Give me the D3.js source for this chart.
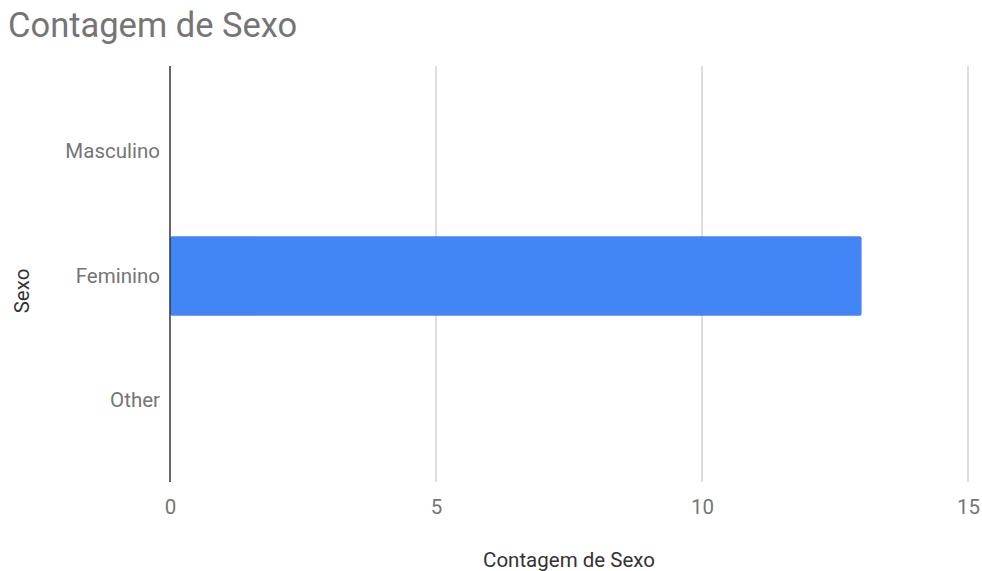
<!DOCTYPE html>
<html><head><meta charset="utf-8">
<script src="https://cdn.jsdelivr.net/npm/d3@7"></script>
<style>body{margin:0;background:#fff;font-family:Roboto,sans-serif;}</style>
</head><body>
<svg id="c" width="982" height="571"></svg>
<script>
const categories = ["Masculino", "Feminino", "Other"];
const values = [0, 13, 0];
const xTicks = [0, 5, 10, 15];
const title = "Contagem de Sexo";
const xTitle = "Contagem de Sexo";
const yTitle = "Sexo";

const svg = d3.select("#c");
const plotTop = 66, plotBottom = 482, plotLeft = 170, plotRight = 968;

const x = d3.scaleLinear().domain([0, 15]).range([plotLeft, plotRight]);
const y = d3.scaleBand().domain(categories).range([89.5, 462.5]).paddingInner(0.36).paddingOuter(0.18);

svg.append("text").attr("x", 8).attr("y", 37).attr("font-size", 34.5).attr("fill", "#757575").text(title);

// gridlines
svg.append("g").selectAll("line").data(xTicks.filter(d => d !== 0)).join("line")
  .attr("x1", d => x(d)).attr("x2", d => x(d)).attr("y1", plotTop).attr("y2", plotBottom)
  .attr("stroke", "#cccccc").attr("stroke-width", 1.3);

// x axis tick labels
const xAxis = d3.axisBottom(x).tickValues(xTicks).tickSize(0).tickPadding(0);
const gx = svg.append("g").attr("transform", `translate(0,${plotBottom})`).call(xAxis);
gx.select(".domain").remove();
gx.selectAll("text").attr("font-family", "Roboto").attr("font-size", 20.5).attr("fill", "#757575").attr("dy", null).attr("y", 32);

// y axis labels
const yAxis = d3.axisLeft(y).tickSize(0).tickPadding(10);
const gy = svg.append("g").attr("transform", `translate(${plotLeft},0)`).call(yAxis);
gy.select(".domain").remove();
gy.selectAll("text").attr("font-family", "Roboto").attr("font-size", 20.5).attr("fill", "#757575");

// bars
svg.append("g").selectAll("rect").data(categories.map((c, i) => ({c, v: values[i]})).filter(d => d.v > 0)).join("rect")
  .attr("x", x(0)).attr("y", d => y(d.c)).attr("width", d => x(d.v) - x(0)).attr("height", y.bandwidth())
  .attr("rx", 2).attr("fill", "#4285f4");

// baseline
svg.append("line").attr("x1", x(0)).attr("x2", x(0)).attr("y1", plotTop).attr("y2", plotBottom)
  .attr("stroke", "#333333").attr("stroke-width", 1.5);

svg.append("text").attr("x", 569).attr("y", 567).attr("text-anchor", "middle")
  .attr("font-size", 20.5).attr("fill", "#333").text(xTitle);
svg.append("text").attr("transform", `translate(29,291) rotate(-90)`).attr("text-anchor", "middle")
  .attr("font-size", 20.5).attr("fill", "#333").text(yTitle);
</script>
</body></html>
